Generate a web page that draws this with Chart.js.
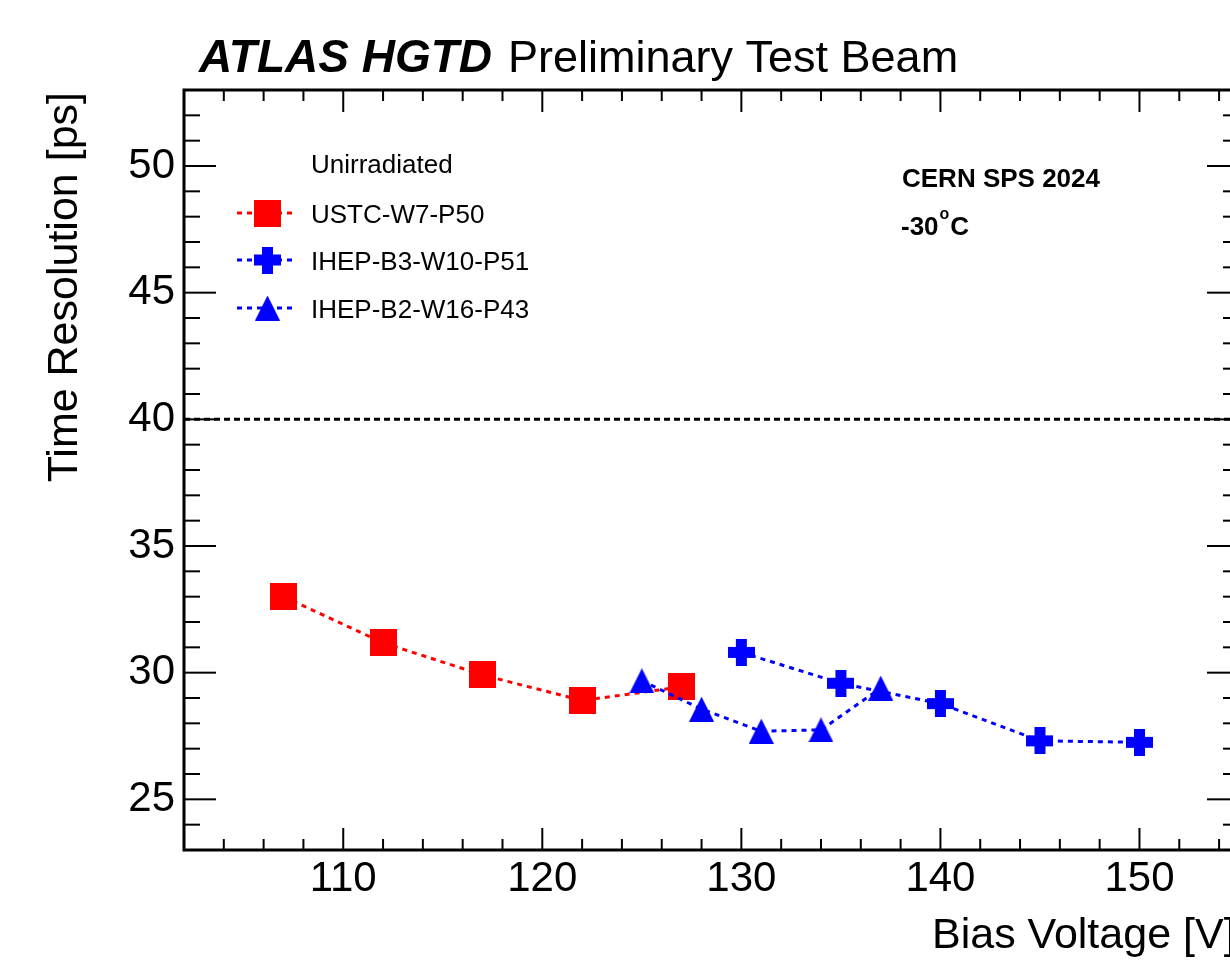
<!DOCTYPE html>
<html>
<head>
<meta charset="utf-8">
<script src="https://cdn.jsdelivr.net/npm/chart.js@4.4.1/dist/chart.umd.min.js"></script>
<style>
  html, body { margin: 0; padding: 0; background: #fff; overflow: hidden; }
  #wrap { width: 1250px; height: 961px; }
</style>
</head>
<body>
<div id="wrap"><canvas id="chart" width="1250" height="961"></canvas></div>
<script>
// data
const voltUSTC = [107, 112, 117, 122, 127];
const resUSTC = [33.0, 31.18, 29.91, 28.9, 29.44];

const voltB3 = [130, 135, 140, 145, 150];
const resB3 = [30.8, 29.58, 28.78, 27.31, 27.25];

const voltB2 = [125, 128, 131, 134, 137];
const resB2 = [29.68, 28.56, 27.69, 27.74, 29.39];

const refLevel = 40;

const xTicks = [110, 120, 130, 140, 150];
const yTicks = [25, 30, 35, 40, 45, 50];
const xMin = 102, xMax = 155;
const yMin = 23, yMax = 53;

const FONT = '"Liberation Sans", Arial, Helvetica, sans-serif';

// ROOT-like filled markers
function markerSquare(color, s) {
    const c = document.createElement('canvas');
    c.width = s; c.height = s;
    const g = c.getContext('2d');
    g.fillStyle = color;
    g.fillRect(0, 0, s, s);
    return c;
}
function markerPlus(color, s, t) {
    const c = document.createElement('canvas');
    c.width = s; c.height = s;
    const g = c.getContext('2d');
    g.fillStyle = color;
    g.fillRect((s - t) / 2, 0, t, s);
    g.fillRect(0, (s - t) / 2, s, t);
    return c;
}
function markerTriangle(color, w, h) {
    const c = document.createElement('canvas');
    c.width = w; c.height = h;
    const g = c.getContext('2d');
    g.fillStyle = color;
    g.beginPath();
    g.moveTo(w / 2, 0);
    g.lineTo(w, h);
    g.lineTo(0, h);
    g.closePath();
    g.fill();
    return c;
}

function toPoints(xs, ys) {
    return xs.map((v, i) => ({ x: v, y: ys[i] }));
}

const datasets = [
    {
        label: 'USTC-W7-P50',
        data: toPoints(voltUSTC, resUSTC),
        borderColor: '#ff0000',
        backgroundColor: '#ff0000',
        borderWidth: 3,
        borderDash: [5, 5],
        pointStyle: markerSquare('#ff0000', 27),
        showLine: true,
        order: 3
    },
    {
        label: 'IHEP-B3-W10-P51',
        data: toPoints(voltB3, resB3),
        borderColor: '#0000ff',
        backgroundColor: '#0000ff',
        borderWidth: 3,
        borderDash: [5, 5],
        pointStyle: markerPlus('#0000ff', 27, 11),
        showLine: true,
        order: 2
    },
    {
        label: 'IHEP-B2-W16-P43',
        data: toPoints(voltB2, resB2),
        borderColor: '#0000ff',
        backgroundColor: '#0000ff',
        borderWidth: 3,
        borderDash: [5, 5],
        pointStyle: markerTriangle('#0000ff', 25, 25),
        showLine: true,
        order: 1
    },
    {
        label: 'ref',
        data: [{ x: xMin, y: refLevel }, { x: xMax, y: refLevel }],
        borderColor: '#000',
        borderWidth: 3,
        borderDash: [6, 4],
        pointRadius: 0,
        showLine: true,
        order: 4
    }
];

function line(ctx, x1, y1, x2, y2) {
    ctx.beginPath();
    ctx.moveTo(x1, y1);
    ctx.lineTo(x2, y2);
    ctx.stroke();
}

// frame, inward ticks, labels and legend in ROOT style
const atlasDecor = {
    id: 'atlasDecor',
    afterDraw(chart) {
        const ctx = chart.ctx;
        const a = chart.chartArea;
        const x = chart.scales.x, y = chart.scales.y;
        ctx.save();
        ctx.strokeStyle = '#000';
        ctx.fillStyle = '#000';

        ctx.lineWidth = 2;
        for (let v = xMin; v <= xMax; v += 2) {
            const px = x.getPixelForValue(v);
            const len = v % 10 === 0 ? 22 : 11;
            line(ctx, px, a.bottom, px, a.bottom - len);
            line(ctx, px, a.top, px, a.top + len);
        }
        for (let v = yMin; v <= yMax; v += 1) {
            const py = y.getPixelForValue(v);
            const len = v % 5 === 0 ? 32 : 16;
            line(ctx, a.left, py, a.left + len, py);
            line(ctx, a.right, py, a.right - len, py);
        }
        ctx.lineWidth = 3;
        ctx.strokeRect(a.left, a.top, a.right - a.left, a.bottom - a.top);

        // title
        ctx.textBaseline = 'alphabetic';
        ctx.textAlign = 'left';
        ctx.font = 'italic bold 46px ' + FONT;
        ctx.fillText('ATLAS HGTD', 199, 72);
        ctx.font = '45px ' + FONT;
        ctx.fillText('Preliminary Test Beam', 508, 72);

        // axis titles
        ctx.font = '43px ' + FONT;
        ctx.fillText('Bias Voltage [V]', 932, 948);
        ctx.save();
        ctx.translate(77, 92);
        ctx.rotate(-Math.PI / 2);
        ctx.textAlign = 'right';
        ctx.fillText('Time Resolution [ps]', 0, 0);
        ctx.restore();

        // beam info
        ctx.font = 'bold 26px ' + FONT;
        ctx.fillText('CERN SPS 2024', 902, 187);
        ctx.fillText('-30', 901, 235);
        let tx = 901 + ctx.measureText('-30').width + 1;
        ctx.font = 'bold 16px ' + FONT;
        ctx.fillText('o', tx, 219);
        tx += ctx.measureText('o').width + 1;
        ctx.font = 'bold 26px ' + FONT;
        ctx.fillText('C', tx, 235);

        // legend
        ctx.font = '26px ' + FONT;
        ctx.fillText('Unirradiated', 311, 173);
        const rows = [213, 260, 308];
        for (let i = 0; i < 3; i++) {
            const ds = chart.data.datasets[i];
            const cy = rows[i];
            ctx.save();
            ctx.strokeStyle = ds.borderColor;
            ctx.lineWidth = ds.borderWidth;
            ctx.setLineDash(ds.borderDash);
            line(ctx, 237, cy, 295, cy);
            ctx.restore();
            const img = ds.pointStyle;
            ctx.drawImage(img, 267.5 - img.width / 2, cy - img.height / 2);
            ctx.fillStyle = '#000';
            ctx.fillText(ds.label, 311, cy + 10);
        }
        ctx.restore();
    }
};

new Chart(document.getElementById('chart'), {
    type: 'scatter',
    data: { datasets: datasets },
    plugins: [atlasDecor],
    options: {
        responsive: false,
        animation: false,
        layout: { padding: { top: 90, right: 11, left: 0, bottom: 0 } },
        plugins: {
            legend: { display: false },
            tooltip: { enabled: false }
        },
        scales: {
            x: {
                type: 'linear',
                min: xMin,
                max: xMax,
                afterBuildTicks: s => { s.ticks = xTicks.map(v => ({ value: v })); },
                afterFit: s => { s.height = 111; },
                grid: { display: false, drawTicks: false },
                border: { display: false },
                ticks: { color: '#000', font: { family: FONT, size: 42 }, padding: 4, maxRotation: 0, autoSkip: false }
            },
            y: {
                type: 'linear',
                min: yMin,
                max: yMax,
                afterBuildTicks: s => { s.ticks = yTicks.map(v => ({ value: v })); },
                afterFit: s => { s.width = 184; },
                grid: { display: false, drawTicks: false },
                border: { display: false },
                ticks: { color: '#000', font: { family: FONT, size: 42 }, padding: 9, autoSkip: false }
            }
        }
    }
});
</script>
</body>
</html>
